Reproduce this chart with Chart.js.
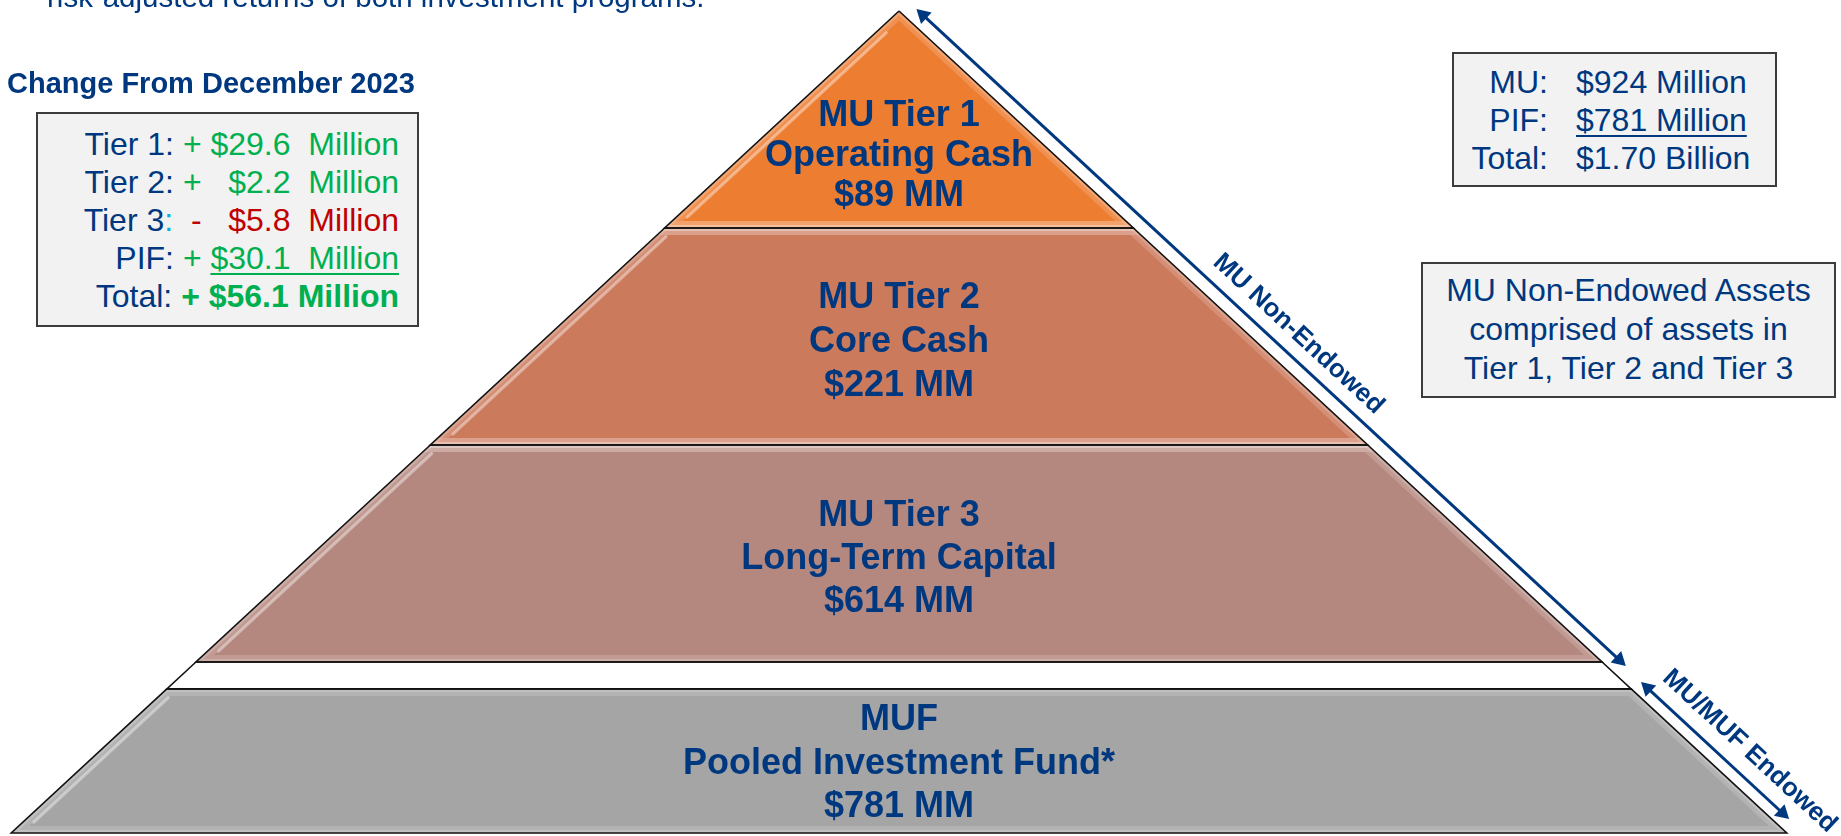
<!DOCTYPE html>
<html>
<head>
<meta charset="utf-8">
<title>MU / MUF investment pyramid</title>
<script src="https://cdn.jsdelivr.net/npm/chart.js@4.4.1/dist/chart.umd.min.js"></script>
<style>
  html, body { margin: 0; padding: 0; background: #fff; overflow: hidden; }
  body { width: 1841px; height: 836px; position: relative;
         font-family: "Liberation Sans", Arial, sans-serif; color: #00387f; }
  #wrap { position: absolute; left: 0; top: 0; width: 1841px; height: 836px; }
  .txt { position: absolute; white-space: pre; line-height: 1; }
  .box { position: absolute; box-sizing: border-box; background: #f2f2f2;
         border: 2px solid #3c3c3c; font-size: 32px; line-height: 38px; white-space: pre; }
  .u { text-decoration: underline; text-decoration-thickness: 2px; text-underline-offset: 4px; }
</style>
</head>
<body>
<div id="wrap"><canvas id="pyramid"></canvas></div>

<div class="txt" id="lead" style="left:47px; top:-18px; font-size:29.5px;"></div>
<div class="txt" id="changeTitle" style="left:7px; top:69px; font-size:29px; font-weight:bold;"></div>
<div class="box" id="changeBox" style="left:36px; top:112px; width:383px; height:215px; padding:11px 18px 0 0; text-align:right;"></div>
<div class="box" id="totalBox" style="left:1452px; top:52px; width:325px; height:135px; padding:9px 0 0 0;"></div>
<div class="box" id="noteBox" style="left:1421px; top:262px; width:415px; height:136px; padding:7px 0 0 0; line-height:39px; text-align:center;"></div>

<script>
// ---- data ----
const tierNames  = ['MU Tier 1', 'MU Tier 2', 'MU Tier 3', 'MUF'];
const tierTitles = ['Operating Cash', 'Core Cash', 'Long-Term Capital', 'Pooled Investment Fund*'];
const tierValues = [89, 221, 614, 781];               // $MM

const changeLabels = ['Tier 1', 'Tier 2', 'Tier 3', 'PIF', 'Total'];
const changeValues = [29.6, 2.2, -5.8, 30.1, 56.1];   // $ Million, change from Dec 2023

const totalLabels = ['MU', 'PIF', 'Total'];
const totalValues = [924, 781, 1.70];
const totalUnits  = ['Million', 'Million', 'Billion'];

const groupNames = ['MU Non-Endowed', 'MU/MUF Endowed'];

// ---- layout ----
const NAVY = '#00387f';
const GREEN = '#00b050';
const RED = '#c00000';
const tierColors = ['#ed7d31', '#cc7a5c', '#b5887f', '#a5a5a5'];

const UNIT = 217;          // px per unit on both axes
const SLOPE = 1.08;        // half width of the pyramid per unit of depth
const bands = [[0, 1], [1, 2], [2, 3], [3.124, 3.788]];   // depth of top/bottom of each tier
const labelDepth = [0.668, 1.527, 2.528, 3.47];
const lineGap = [40, 44, 43, 43.5];
const arrows = [
    { from: -0.009, to: 3.018, off: 0.09, labelAt: 1.56, gap: 21 },
    { from: 3.092, to: 3.724, off: 0.08, labelAt: 3.489, gap: 23 }
];
const HEAD = 9;            // arrow head radius, px

const ang = Math.atan2(1, SLOPE);
const angDeg = ang * 180 / Math.PI;

function edgeX(d) {
    return SLOPE * d;
}

function shape(t, b) {
    const pts = t === 0 ? [{ x: 0, y: 0 }] : [{ x: -edgeX(t), y: t }, { x: edgeX(t), y: t }];
    pts.push({ x: edgeX(b), y: b }, { x: -edgeX(b), y: b });
    return pts;
}

function closed(pts) {
    return pts.concat([pts[0]]);
}

const datasets = [];
const gapShape = shape(bands[2][1], bands[3][0]);

tierNames.forEach((name, i) => {
    const pts = shape(bands[i][0], bands[i][1]);
    datasets.push({ label: name, data: pts, fill: 'shape', backgroundColor: tierColors[i], borderWidth: 0, order: 50 });
    datasets.push({ data: closed(pts), borderColor: 'rgba(255,255,255,0.16)', borderWidth: 14, order: 41 });
    datasets.push({ data: closed(pts), borderColor: 'rgba(255,255,255,0.18)', borderWidth: 6, order: 40 });
    const t = bands[i][0] + (i === 0 ? 0.1 : 0.04);
    const b = bands[i][1] - 0.05;
    datasets.push({
        data: [{ x: -edgeX(t) + 0.05, y: t }, { x: -edgeX(b) + 0.05, y: b }],
        borderColor: 'rgba(255,255,255,0.4)', borderWidth: 3, borderCapStyle: 'round', order: 30
    });
    datasets.push({ data: closed(pts), borderColor: '#111', borderWidth: 1.6, order: 20 });
});
datasets.push({ data: gapShape, fill: 'shape', backgroundColor: '#fff', borderWidth: 0, order: 50 });
datasets.push({ data: closed(gapShape), borderColor: '#111', borderWidth: 1.6, order: 20 });

arrows.forEach((a, i) => {
    const h = HEAD / UNIT;
    const ux = Math.cos(ang) * h, uy = Math.sin(ang) * h;
    datasets.push({
        label: groupNames[i],
        data: [
            { x: edgeX(a.from) + a.off + ux, y: a.from + uy },
            { x: edgeX(a.to) + a.off - ux, y: a.to - uy }
        ],
        borderColor: NAVY,
        borderWidth: 3,
        pointStyle: 'triangle',
        pointRadius: HEAD,
        pointBackgroundColor: NAVY,
        pointBorderWidth: 0,
        pointRotation: [270 + angDeg, 90 + angDeg],
        order: 10
    });
});

datasets.forEach(ds => {
    ds.showLine = true;
    if (ds.pointRadius === undefined) ds.pointRadius = 0;
    if (ds.fill === undefined) ds.fill = false;
    ds.tension = 0;
});

const labelPlugin = {
    id: 'pyramidLabels',
    afterDatasetsDraw(chart) {
        const { ctx, scales: { x, y } } = chart;
        ctx.save();
        ctx.fillStyle = NAVY;
        ctx.textAlign = 'center';
        ctx.textBaseline = 'middle';
        ctx.font = 'bold 36px "Liberation Sans", Arial, sans-serif';
        tierNames.forEach((name, i) => {
            const lines = [name, tierTitles[i], '$' + tierValues[i] + ' MM'];
            const cx = x.getPixelForValue(0);
            const cy = y.getPixelForValue(labelDepth[i]);
            lines.forEach((s, j) => ctx.fillText(s, cx, cy + (j - 1) * lineGap[i]));
        });
        ctx.font = 'bold 26px "Liberation Sans", Arial, sans-serif';
        arrows.forEach((a, i) => {
            const px = x.getPixelForValue(edgeX(a.labelAt) + a.off);
            const py = y.getPixelForValue(a.labelAt);
            ctx.save();
            ctx.translate(px + Math.sin(ang) * a.gap, py - Math.cos(ang) * a.gap);
            ctx.rotate(ang);
            ctx.fillText(groupNames[i], 0, 0);
            ctx.restore();
        });
        ctx.restore();
    }
};

new Chart(document.getElementById('pyramid'), {
    type: 'scatter',
    data: { datasets: datasets },
    options: {
        responsive: true,
        maintainAspectRatio: false,
        animation: false,
        events: [],
        layout: { padding: 0, autoPadding: false },
        plugins: {
            legend: { display: false },
            tooltip: { enabled: false }
        },
        scales: {
            x: { type: 'linear', display: false, bounds: 'data', min: -899 / UNIT, max: (1841 - 899) / UNIT },
            y: { type: 'linear', display: false, bounds: 'data', reverse: true, min: -11 / UNIT, max: (836 - 11) / UNIT }
        }
    },
    plugins: [labelPlugin]
});

// ---- text boxes ----
document.getElementById('lead').textContent = 'risk-adjusted returns of both investment programs.';
document.getElementById('changeTitle').textContent = 'Change From December 2023';

function money(v) {
    return '$' + Math.abs(v).toFixed(1);
}

const changeBox = document.getElementById('changeBox');
changeLabels.forEach((lab, i) => {
    const v = changeValues[i];
    const row = document.createElement('div');
    const colour = v < 0 ? RED : GREEN;
    const colon = lab === 'Tier 3' ? '#00b0f0' : NAVY;
    let html = lab + '<span style="color:' + colon + '">:</span> ';
    if (i === changeLabels.length - 1) {
        html += '<b style="color:' + colour + '">' + (v < 0 ? '-' : '+') + ' ' + money(v) + ' Million</b>';
    } else {
        const pad = ' '.repeat(2 * (5 - money(v).length));
        const amount = money(v) + '  Million';
        const under = i === changeLabels.length - 2;
        html += '<span style="color:' + colour + '">' + (v < 0 ? ' -' : '+') + ' ' + pad +
            (under ? '<span class="u">' + amount + '</span>' : amount) + '</span>';
    }
    row.innerHTML = html;
    changeBox.appendChild(row);
});

const totalBox = document.getElementById('totalBox');
totalBox.style.display = 'grid';
totalBox.style.gridTemplateColumns = '94px auto';
totalBox.style.columnGap = '28px';
totalBox.style.alignContent = 'start';
totalLabels.forEach((lab, i) => {
    const l = document.createElement('div');
    l.style.textAlign = 'right';
    l.textContent = lab + ':';
    const v = document.createElement('div');
    const num = totalUnits[i] === 'Billion' ? totalValues[i].toFixed(2) : String(totalValues[i]);
    const span = document.createElement('span');
    span.textContent = '$' + num + ' ' + totalUnits[i];
    if (i === totalLabels.length - 2) span.className = 'u';
    v.appendChild(span);
    totalBox.appendChild(l);
    totalBox.appendChild(v);
});

const noteBox = document.getElementById('noteBox');
['MU Non-Endowed Assets', 'comprised of assets in', 'Tier 1, Tier 2 and Tier 3'].forEach(s => {
    const d = document.createElement('div');
    d.textContent = s;
    noteBox.appendChild(d);
});
</script>
</body>
</html>
